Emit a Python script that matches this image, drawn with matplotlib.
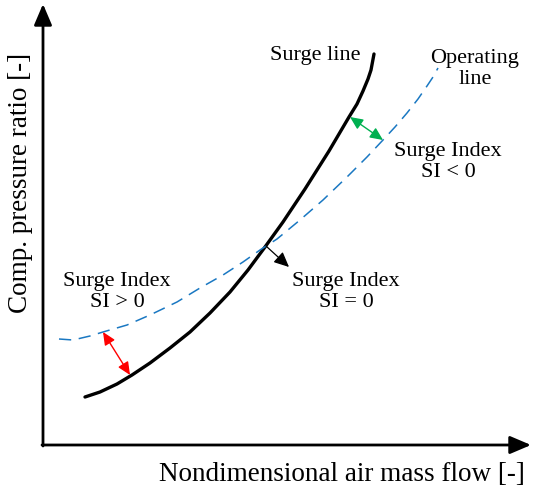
import matplotlib
matplotlib.use('Agg')
import matplotlib.pyplot as plt

plt.rcParams['font.family'] = ['Liberation Serif', 'DejaVu Serif']

# chart units: origin at the axis corner
surge_x = [42, 57, 74, 89, 107, 127, 147, 167, 187, 205, 222, 240, 262, 286,
           306, 314, 320, 325, 328, 331]
surge_y = [48, 53, 61, 70, 82, 97, 113, 132, 153, 175, 198, 223, 256, 294,
           328, 341, 354, 366, 375, 391]

oper_x = [16, 30, 47, 60, 84, 107, 134, 157, 180, 200, 217, 234, 257, 280,
          304, 324, 340, 352, 364, 375, 384, 390, 395]
oper_y = [106, 105, 109, 113, 120, 130, 143, 157, 170, 183, 195, 206, 225, 245,
          268, 288, 305, 318, 332, 346, 359, 368, 377]

# (start, end) of the surge index markers
si_pos = [(60, 113), (87, 70)]
si_neg = [(307, 328), (340, 305)]
si_zero = [(223, 199), (246, 178)]

fig = plt.figure(figsize=(5.33, 4.94), dpi=100)
ax = fig.add_axes([0, 0, 1, 1])
ax.set_xlim(-43, 490)
ax.set_ylim(-49, 445)
ax.axis('off')

# axes with arrow heads
axis_kw = dict(arrowstyle='-|>,head_length=0.4,head_width=0.17', mutation_scale=32,
               lw=2, color='black', shrinkA=0, shrinkB=0)
ax.annotate('', xy=(488, 0), xytext=(-1, 0), arrowprops=axis_kw)
ax.annotate('', xy=(0, 441), xytext=(0, -1), arrowprops=axis_kw)

ax.plot(surge_x, surge_y, color='black', lw=2.4, solid_capstyle='round',
        solid_joinstyle='round')
ax.plot(oper_x, oper_y, color='#1a78c2', lw=1.1, dashes=(8, 5))

def marker(p, style, color, lw):
    ax.annotate('', xy=p[1], xytext=p[0],
                arrowprops=dict(arrowstyle=style, mutation_scale=14, lw=lw,
                                color=color, shrinkA=0, shrinkB=0))

marker(si_pos, '<|-|>,head_length=0.55,head_width=0.25', '#ff0000', 1.0)
marker(si_neg, '<|-|>,head_length=0.55,head_width=0.25', '#00b050', 1.0)
marker(si_zero, '-|>,head_length=0.65,head_width=0.3', 'black', 0.9)

fs = 16
ax.text(272, 389, 'Surge line', fontsize=fs, ha='center', va='center')
ax.text(432, 376, 'Operating\nline', fontsize=fs, ha='center', va='center')
ax.text(405, 283, 'Surge Index\nSI < 0', fontsize=fs, ha='center', va='center')
ax.text(303, 153, 'Surge Index\nSI = 0', fontsize=fs, ha='center', va='center')
ax.text(74, 153, 'Surge Index\nSI > 0', fontsize=fs, ha='center', va='center')

ax.text(299, -29, 'Nondimensional air mass flow [-]', fontsize=19.5,
        ha='center', va='center')
ax.text(-22, 262, 'Comp. pressure ratio [-]', fontsize=19.5, rotation=90,
        ha='center', va='center')

plt.savefig('out.png', dpi=100)
plt.close()
